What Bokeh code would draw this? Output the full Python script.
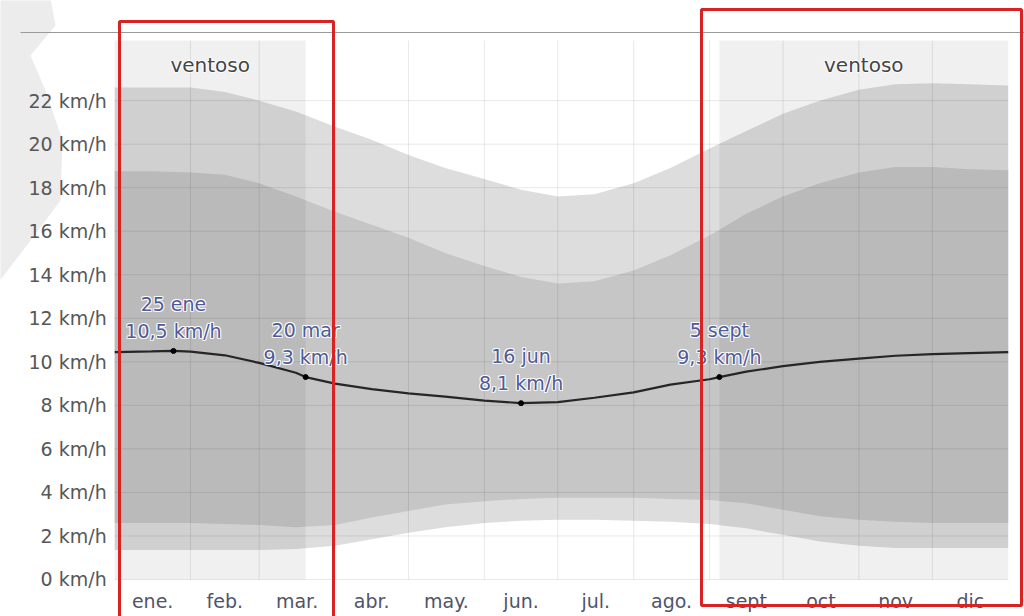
from bokeh.plotting import figure
from bokeh.models import Range1d, FixedTicker, BoxAnnotation, PolyAnnotation, ColumnDataSource
from bokeh.core.properties import value
from bokeh.embed import file_html
from bokeh.resources import INLINE

# ---- data (day of year, km/h) ----
months = ["ene.", "feb.", "mar.", "abr.", "may.", "jun.", "jul.", "ago.", "sept", "oct", "nov", "dic"]
month_starts = [0, 31, 59, 90, 120, 151, 181, 212, 243, 273, 304, 334, 365]

band_days = [0, 15, 31, 45, 59, 74, 90, 105, 120, 135, 151, 166, 181, 196, 212, 227, 243, 258, 273, 288, 304, 319, 334, 349, 365]
p90 = [22.6, 22.6, 22.6, 22.4, 22.0, 21.5, 20.8, 20.2, 19.5, 18.9, 18.4, 17.9, 17.6, 17.7, 18.2, 18.9, 19.8, 20.6, 21.4, 22.0, 22.5, 22.75, 22.8, 22.75, 22.7]
p75 = [18.75, 18.75, 18.7, 18.6, 18.2, 17.6, 16.9, 16.3, 15.7, 15.0, 14.4, 13.9, 13.6, 13.7, 14.2, 14.9, 15.8, 16.8, 17.6, 18.2, 18.7, 18.95, 18.95, 18.85, 18.8]
p25 = [2.6, 2.6, 2.6, 2.55, 2.5, 2.4, 2.5, 2.85, 3.15, 3.45, 3.6, 3.7, 3.75, 3.75, 3.75, 3.7, 3.65, 3.5, 3.2, 2.9, 2.75, 2.65, 2.6, 2.6, 2.6]
p10 = [1.35, 1.35, 1.35, 1.35, 1.35, 1.4, 1.55, 1.85, 2.15, 2.4, 2.6, 2.7, 2.75, 2.75, 2.7, 2.65, 2.55, 2.35, 2.05, 1.75, 1.55, 1.45, 1.45, 1.45, 1.45]

avg_days = [0, 15, 24, 31, 45, 59, 74, 78, 90, 105, 120, 135, 151, 166, 181, 196, 212, 227, 243, 247, 258, 273, 288, 304, 319, 334, 349, 365]
avg = [10.45, 10.48, 10.5, 10.47, 10.3, 9.95, 9.5, 9.3, 9.0, 8.75, 8.55, 8.4, 8.22, 8.1, 8.15, 8.35, 8.6, 8.95, 9.2, 9.3, 9.55, 9.8, 10.0, 10.15, 10.28, 10.35, 10.4, 10.45]

windy_start = [0, 247]
windy_end = [78, 365]
windy_label = ["ventoso", "ventoso"]

ann_days = [24, 78, 166, 247]
ann_values = [10.5, 9.3, 8.1, 9.3]
ann_dates = ["25 ene", "20 mar", "16 jun", "5 sept"]
ann_texts = ["10,5 km/h", "9,3 km/h", "8,1 km/h", "9,3 km/h"]

y_ticks = list(range(0, 23, 2))
y_top = 24.76

FONT = "DejaVu Sans"
W, H = 1024, 616

p = figure(width=W, height=H, output_backend="svg", toolbar_location=None,
           x_range=Range1d(-46.65, 371.65), y_range=Range1d(-1.70, 26.6),
           min_border_left=0, min_border_right=0, min_border_top=0, min_border_bottom=0)
p.outline_line_color = None
p.background_fill_color = "white"
p.border_fill_color = "white"
p.grid.visible = False

# page decorations behind everything (screen units: x from left, y up from bottom)
p.add_layout(PolyAnnotation(xs=[-2, 50, 55, 30, 45, 62, 60, 30, -2],
                            ys=[H + 2, H + 2, H - 25, H - 55, H - 90, H - 140, H - 200, H - 240, H - 282],
                            xs_units="screen", ys_units="screen",
                            fill_color="#ececec", fill_alpha=1, line_color=None, level="underlay"))

# bands
p.varea(x=band_days, y1=p10, y2=p90, fill_color="#dddddd")
p.varea(x=band_days, y1=p25, y2=p75, fill_color="#c6c6c6")

# windy periods shading
wsrc = ColumnDataSource(dict(left=windy_start, right=windy_end,
                             mid=[(a + b) / 2 for a, b in zip(windy_start, windy_end)],
                             lab=windy_label))
p.quad(left="left", right="right", bottom=0, top=y_top, source=wsrc,
       fill_color="black", fill_alpha=0.06, line_color=None)

# grid lines over the data area
p.segment(x0=month_starts[1:-1], y0=0, x1=month_starts[1:-1], y1=y_top,
          line_color="black", line_alpha=0.09, line_width=1)
p.segment(x0=0, y0=y_ticks, x1=365, y1=y_ticks,
          line_color="black", line_alpha=0.09, line_width=1)

# average line
p.line(avg_days, avg, line_color="#262626", line_width=2.2)
p.scatter(ann_days, ann_values, size=5, color="black")

# annotation labels with white halo
asrc = ColumnDataSource(dict(x=ann_days, y=ann_values, d=ann_dates, t=ann_texts))
for dx, dy in [(-1, 0), (1, 0), (0, -1), (0, 1), (-1, -1), (1, 1), (-1, 1), (1, -1)]:
    for col, off in [("d", -47), ("t", -20)]:
        p.text(x="x", y="y", text=col, source=asrc, x_offset=dx, y_offset=off + dy,
               text_align="center", text_baseline="middle", text_font=value(FONT),
               text_font_size="19px", text_color="white", text_alpha=0.75)
for col, off in [("d", -47), ("t", -20)]:
    p.text(x="x", y="y", text=col, source=asrc, y_offset=off,
           text_align="center", text_baseline="middle", text_font=value(FONT),
           text_font_size="19px", text_color="#4f5a96")

# ventoso labels
for dx, dy in [(-1, 0), (1, 0), (0, -1), (0, 1)]:
    p.text(x="mid", y=y_top, text="lab", source=wsrc, x_offset=dx, y_offset=24 + dy,
           text_align="center", text_baseline="middle", text_font=value(FONT),
           text_font_size="20px", text_color="white")
p.text(x="mid", y=y_top, text="lab", source=wsrc, y_offset=24,
       text_align="center", text_baseline="middle", text_font=value(FONT),
       text_font_size="20px", text_color="#454545")

# axes placed at the data origin
mid_month = [(a + b) / 2 for a, b in zip(month_starts[:-1], month_starts[1:])]
p.xaxis.ticker = FixedTicker(ticks=mid_month)
p.xaxis.major_label_overrides = {m: lab for m, lab in zip(mid_month, months)}
p.yaxis.ticker = FixedTicker(ticks=y_ticks)
p.yaxis.major_label_overrides = {t: f"{t} km/h" for t in y_ticks}
for ax in (p.xaxis[0], p.yaxis[0]):
    ax.fixed_location = 0
    ax.axis_line_color = None
    ax.major_tick_line_color = None
    ax.minor_tick_line_color = None
    ax.major_label_text_font = FONT
    ax.major_label_text_font_size = "19px"
    ax.major_label_text_color = "#575757"
p.xaxis.major_label_standoff = 5
p.yaxis.major_label_standoff = 2
p.xaxis.major_label_text_color = "#50546a"

# top rule and red highlight frames (screen units)
p.add_layout(BoxAnnotation(left=20, right=W, bottom=H - 32.5, top=H - 31.5,
                           left_units="screen", right_units="screen", top_units="screen", bottom_units="screen",
                           fill_color="#9a9a9a", fill_alpha=1, line_color=None))
for l, r, t, b in [(119, 333, H - 21, -10), (701, 1021, H - 9, H - 605)]:
    p.add_layout(BoxAnnotation(left=l, right=r, top=t, bottom=b,
                               left_units="screen", right_units="screen", top_units="screen", bottom_units="screen",
                               fill_alpha=0, line_color="#d92222", line_alpha=1, line_width=3))

open("out.html", "w").write(file_html(p, INLINE))
